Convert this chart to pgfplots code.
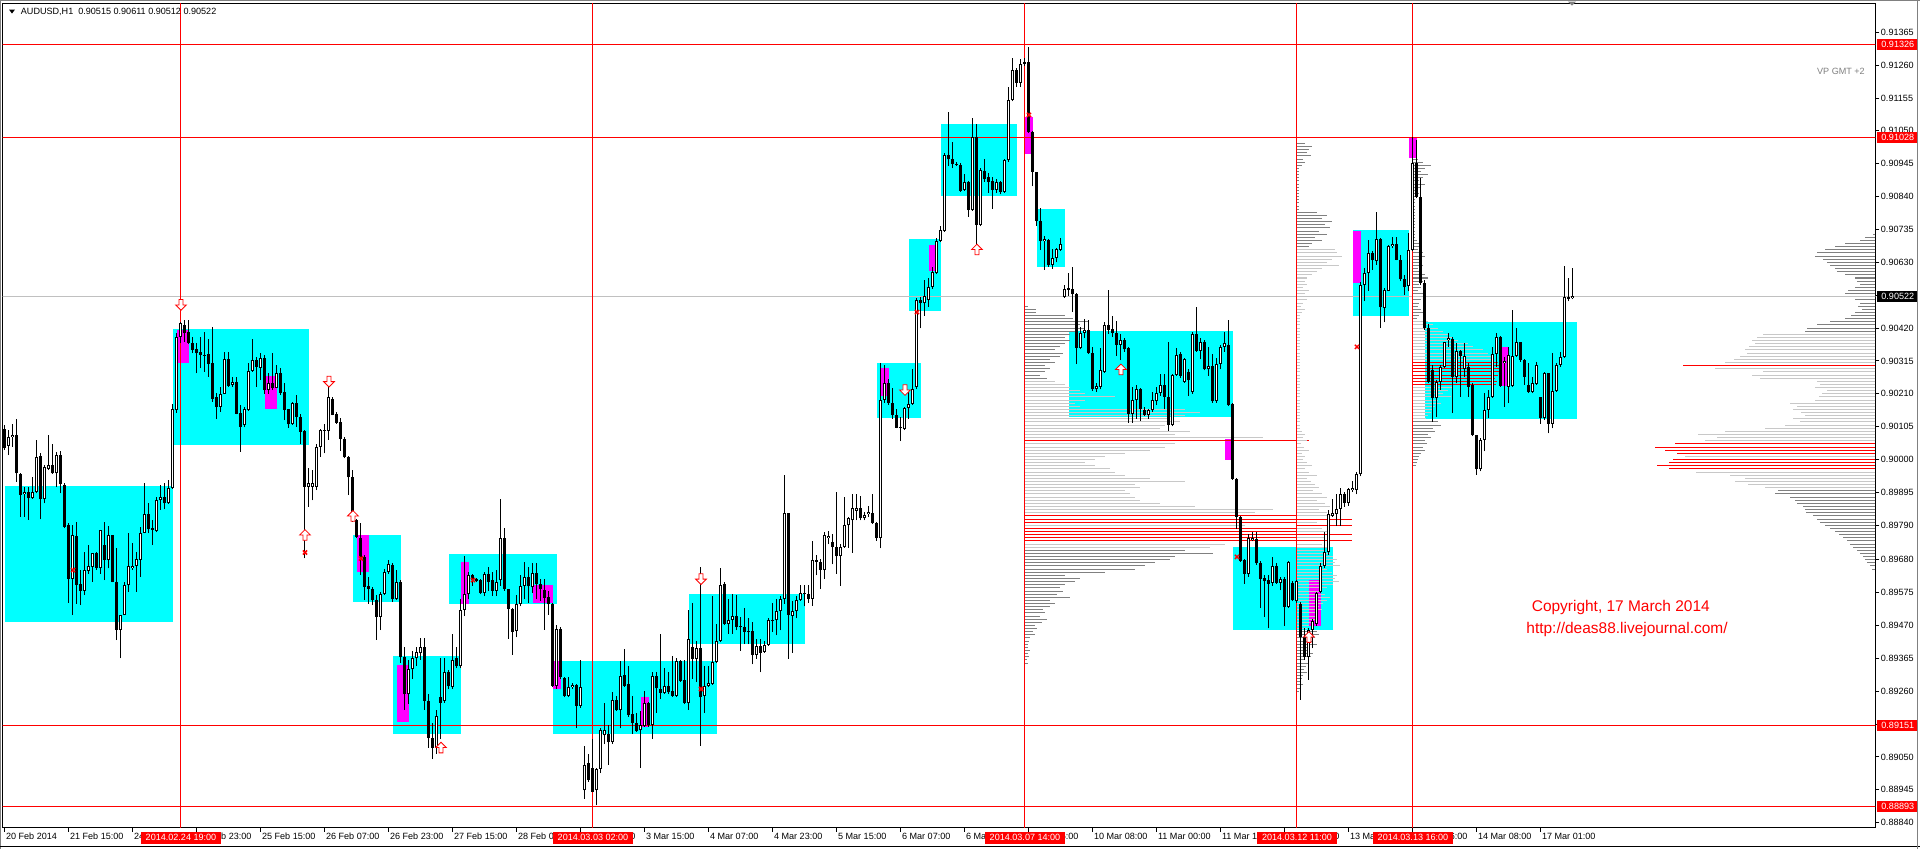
\documentclass[border=0pt]{standalone}
\usepackage{fontspec}
\setmainfont{Liberation Sans}
\usepackage{pgfplots}
\usepackage{pgfplotstable}
\pgfplotsset{compat=1.18}
\definecolor{mtcyan}{RGB}{0,255,255}
\definecolor{mtmag}{RGB}{255,0,255}
\definecolor{mtred}{RGB}{255,0,0}
\definecolor{vpdark}{RGB}{128,128,128}
\definecolor{vplight}{RGB}{200,200,200}
\definecolor{bidgray}{RGB}{192,192,192}
\newcommand\mtf{\fontsize{6.8}{8.2}\selectfont}

\pgfdeclareplotmark{uparr}{%
  \pgfpathmoveto{\pgfqpoint{-1.5pt}{-4pt}}%
  \pgfpathlineto{\pgfqpoint{1.5pt}{-4pt}}%
  \pgfpathlineto{\pgfqpoint{1.5pt}{0pt}}%
  \pgfpathlineto{\pgfqpoint{4pt}{0pt}}%
  \pgfpathlineto{\pgfqpoint{0pt}{4pt}}%
  \pgfpathlineto{\pgfqpoint{-4pt}{0pt}}%
  \pgfpathlineto{\pgfqpoint{-1.5pt}{0pt}}%
  \pgfpathclose\pgfusepathqfillstroke}
\pgfdeclareplotmark{dnarr}{%
  \pgfpathmoveto{\pgfqpoint{-1.5pt}{4pt}}%
  \pgfpathlineto{\pgfqpoint{1.5pt}{4pt}}%
  \pgfpathlineto{\pgfqpoint{1.5pt}{0pt}}%
  \pgfpathlineto{\pgfqpoint{4pt}{0pt}}%
  \pgfpathlineto{\pgfqpoint{0pt}{-4pt}}%
  \pgfpathlineto{\pgfqpoint{-4pt}{0pt}}%
  \pgfpathlineto{\pgfqpoint{-1.5pt}{0pt}}%
  \pgfpathclose\pgfusepathqfillstroke}

\pgfplotstableread{
x o h l c
0 0.90099 0.90110 0.90030 0.90036
1 0.90044 0.90094 0.90014 0.90071
2 0.90073 0.90115 0.90041 0.90078
3 0.90078 0.90128 0.89929 0.89956
4 0.89954 0.89956 0.89817 0.89886
5 0.89889 0.89913 0.89817 0.89895
6 0.89895 0.89913 0.89807 0.89876
7 0.89876 0.89943 0.89875 0.89895
8 0.89895 0.90064 0.89892 0.90007
9 0.90011 0.90020 0.89809 0.89873
10 0.89873 0.89982 0.89860 0.89975
11 0.89971 0.90078 0.89966 0.89984
12 0.89984 0.90051 0.89955 0.89956
13 0.89956 0.90025 0.89913 0.90016
14 0.90016 0.90027 0.89892 0.89922
15 0.89918 0.89924 0.89780 0.89785
16 0.89791 0.89798 0.89542 0.89620
17 0.89620 0.89791 0.89503 0.89759
18 0.89755 0.89801 0.89540 0.89599
19 0.89602 0.89647 0.89535 0.89581
20 0.89581 0.89705 0.89567 0.89647
21 0.89644 0.89727 0.89636 0.89660
22 0.89657 0.89700 0.89610 0.89700
23 0.89702 0.89705 0.89647 0.89654
24 0.89652 0.89775 0.89636 0.89775
25 0.89727 0.89801 0.89615 0.89679
26 0.89679 0.89787 0.89652 0.89759
27 0.89759 0.89760 0.89608 0.89610
28 0.89610 0.89716 0.89423 0.89457
29 0.89457 0.89504 0.89365 0.89503
30 0.89503 0.89610 0.89502 0.89599
31 0.89599 0.89764 0.89578 0.89660
32 0.89655 0.89732 0.89647 0.89660
33 0.89660 0.89705 0.89578 0.89681
34 0.89679 0.89785 0.89626 0.89766
35 0.89766 0.89924 0.89764 0.89825
36 0.89825 0.89860 0.89764 0.89777
37 0.89780 0.89807 0.89727 0.89775
38 0.89771 0.89881 0.89767 0.89870
39 0.89870 0.89918 0.89839 0.89879
40 0.89879 0.89924 0.89841 0.89860
41 0.89860 0.89936 0.89859 0.89908
42 0.89908 0.90179 0.89907 0.90160
43 0.90158 0.90403 0.90149 0.90392
44 0.90392 0.90440 0.90371 0.90435
45 0.90429 0.90445 0.90376 0.90403
46 0.90408 0.90445 0.90369 0.90373
47 0.90373 0.90392 0.90339 0.90350
48 0.90352 0.90371 0.90275 0.90339
49 0.90343 0.90392 0.90291 0.90334
50 0.90332 0.90408 0.90280 0.90334
51 0.90336 0.90384 0.90264 0.90305
52 0.90307 0.90422 0.90185 0.90194
53 0.90201 0.90213 0.90129 0.90169
54 0.90169 0.90232 0.90153 0.90211
55 0.90211 0.90344 0.90209 0.90321
56 0.90321 0.90344 0.90232 0.90235
57 0.90238 0.90264 0.90232 0.90247
58 0.90247 0.90264 0.90144 0.90147
59 0.90149 0.90174 0.90025 0.90105
60 0.90110 0.90169 0.90103 0.90160
61 0.90158 0.90307 0.90156 0.90284
62 0.90284 0.90385 0.90280 0.90318
63 0.90318 0.90328 0.90232 0.90296
64 0.90294 0.90339 0.90254 0.90323
65 0.90323 0.90334 0.90211 0.90222
66 0.90222 0.90275 0.90211 0.90245
67 0.90245 0.90342 0.90222 0.90230
68 0.90230 0.90302 0.90227 0.90277
69 0.90275 0.90291 0.90206 0.90214
70 0.90217 0.90243 0.90126 0.90158
71 0.90160 0.90163 0.90102 0.90112
72 0.90112 0.90185 0.90110 0.90181
73 0.90181 0.90206 0.90105 0.90137
74 0.90137 0.90147 0.90049 0.90089
75 0.90092 0.90096 0.89684 0.89913
76 0.89913 0.89972 0.89849 0.89926
77 0.89913 0.89966 0.89870 0.89926
78 0.89913 0.90051 0.89902 0.90041
79 0.90041 0.90099 0.90009 0.90094
80 0.90092 0.90115 0.90020 0.90096
81 0.90092 0.90232 0.90064 0.90201
82 0.90195 0.90201 0.90141 0.90142
83 0.90145 0.90153 0.90115 0.90117
84 0.90119 0.90133 0.90028 0.90066
85 0.90065 0.90073 0.90004 0.90007
86 0.90009 0.90011 0.89886 0.89943
87 0.89943 0.89966 0.89801 0.89807
88 0.89807 0.89811 0.89750 0.89753
89 0.89750 0.89798 0.89631 0.89684
90 0.89689 0.89695 0.89551 0.89594
91 0.89596 0.89626 0.89540 0.89588
92 0.89585 0.89594 0.89535 0.89551
93 0.89551 0.89567 0.89425 0.89498
94 0.89498 0.89578 0.89455 0.89572
95 0.89572 0.89649 0.89567 0.89642
96 0.89642 0.89679 0.89636 0.89666
97 0.89663 0.89668 0.89546 0.89553
98 0.89556 0.89647 0.89551 0.89610
99 0.89610 0.89615 0.89350 0.89370
100 0.89370 0.89400 0.89200 0.89250
101 0.89250 0.89360 0.89220 0.89330
102 0.89330 0.89390 0.89300 0.89365
103 0.89365 0.89400 0.89340 0.89386
104 0.89381 0.89430 0.89360 0.89402
105 0.89400 0.89429 0.89200 0.89230
106 0.89230 0.89250 0.89080 0.89110
107 0.89110 0.89160 0.89043 0.89080
108 0.89080 0.89200 0.89060 0.89180
109 0.89240 0.89366 0.89108 0.89223
110 0.89229 0.89366 0.89223 0.89322
111 0.89322 0.89328 0.89267 0.89276
112 0.89273 0.89443 0.89267 0.89361
113 0.89366 0.89401 0.89333 0.89339
114 0.89339 0.89553 0.89333 0.89520
115 0.89520 0.89691 0.89500 0.89570
116 0.89570 0.89641 0.89553 0.89630
117 0.89630 0.89636 0.89597 0.89614
118 0.89617 0.89621 0.89608 0.89612
119 0.89614 0.89617 0.89570 0.89575
120 0.89573 0.89641 0.89564 0.89633
121 0.89636 0.89658 0.89581 0.89610
122 0.89614 0.89641 0.89564 0.89581
123 0.89581 0.89647 0.89564 0.89610
124 0.89614 0.89874 0.89597 0.89751
125 0.89751 0.89782 0.89581 0.89586
126 0.89586 0.89587 0.89427 0.89522
127 0.89522 0.89525 0.89377 0.89449
128 0.89452 0.89566 0.89432 0.89537
129 0.89537 0.89630 0.89531 0.89597
130 0.89597 0.89672 0.89553 0.89625
131 0.89625 0.89658 0.89542 0.89595
132 0.89592 0.89669 0.89575 0.89638
133 0.89638 0.89669 0.89553 0.89603
134 0.89603 0.89619 0.89548 0.89586
135 0.89583 0.89619 0.89456 0.89559
136 0.89562 0.89581 0.89504 0.89537
137 0.89537 0.89542 0.89273 0.89278
138 0.89278 0.89471 0.89267 0.89460
139 0.89460 0.89465 0.89300 0.89306
140 0.89302 0.89306 0.89240 0.89245
141 0.89245 0.89306 0.89240 0.89273
142 0.89273 0.89286 0.89267 0.89280
143 0.89280 0.89284 0.89141 0.89212
144 0.89212 0.89361 0.89207 0.89273
145 0.88943 0.89086 0.88917 0.89025
146 0.89031 0.89058 0.88970 0.88976
147 0.89014 0.89108 0.88937 0.88939
148 0.88943 0.89014 0.88895 0.89012
149 0.89012 0.89141 0.88998 0.89135
150 0.89119 0.89223 0.89091 0.89137
151 0.89122 0.89152 0.89025 0.89097
152 0.89097 0.89256 0.89091 0.89232
153 0.89232 0.89245 0.89196 0.89199
154 0.89199 0.89355 0.89141 0.89309
155 0.89311 0.89394 0.89273 0.89278
156 0.89284 0.89339 0.89179 0.89185
157 0.89187 0.89245 0.89124 0.89157
158 0.89159 0.89190 0.89130 0.89133
159 0.89135 0.89196 0.89014 0.89152
160 0.89148 0.89262 0.89146 0.89223
161 0.89223 0.89225 0.89146 0.89152
162 0.89152 0.89320 0.89108 0.89309
163 0.89309 0.89322 0.89190 0.89269
164 0.89267 0.89443 0.89234 0.89254
165 0.89254 0.89333 0.89251 0.89276
166 0.89276 0.89320 0.89251 0.89256
167 0.89262 0.89372 0.89243 0.89245
168 0.89245 0.89366 0.89243 0.89357
169 0.89355 0.89361 0.89289 0.89291
170 0.89295 0.89361 0.89218 0.89223
171 0.89221 0.89520 0.89201 0.89427
172 0.89401 0.89542 0.89300 0.89364
173 0.89364 0.89421 0.89289 0.89399
174 0.89399 0.89658 0.89086 0.89240
175 0.89245 0.89339 0.89190 0.89278
176 0.89278 0.89339 0.89273 0.89287
177 0.89284 0.89564 0.89280 0.89353
178 0.89353 0.89476 0.89350 0.89421
179 0.89421 0.89652 0.89416 0.89599
180 0.89603 0.89608 0.89471 0.89474
181 0.89474 0.89555 0.89443 0.89487
182 0.89487 0.89570 0.89443 0.89500
183 0.89500 0.89566 0.89454 0.89465
184 0.89467 0.89498 0.89390 0.89465
185 0.89465 0.89526 0.89410 0.89449
186 0.89452 0.89493 0.89410 0.89449
187 0.89452 0.89482 0.89346 0.89375
188 0.89375 0.89427 0.89364 0.89405
189 0.89405 0.89427 0.89320 0.89383
190 0.89386 0.89421 0.89383 0.89407
191 0.89407 0.89493 0.89405 0.89487
192 0.89485 0.89542 0.89449 0.89487
193 0.89487 0.89553 0.89438 0.89515
194 0.89515 0.89564 0.89454 0.89553
195 0.89553 0.89951 0.89540 0.89828
196 0.89828 0.89829 0.89363 0.89504
197 0.89500 0.89548 0.89383 0.89517
198 0.89515 0.89564 0.89493 0.89551
199 0.89551 0.89599 0.89548 0.89573
200 0.89570 0.89599 0.89531 0.89573
201 0.89570 0.89599 0.89542 0.89555
202 0.89555 0.89740 0.89533 0.89680
203 0.89680 0.89696 0.89630 0.89672
204 0.89674 0.89683 0.89586 0.89647
205 0.89647 0.89768 0.89619 0.89760
206 0.89751 0.89771 0.89729 0.89757
207 0.89738 0.89762 0.89665 0.89720
208 0.89720 0.89896 0.89636 0.89691
209 0.89691 0.89729 0.89597 0.89720
210 0.89720 0.89881 0.89718 0.89790
211 0.89790 0.89817 0.89718 0.89812
212 0.89806 0.89889 0.89702 0.89845
213 0.89837 0.89889 0.89806 0.89845
214 0.89845 0.89883 0.89806 0.89812
215 0.89812 0.89834 0.89806 0.89823
216 0.89826 0.89852 0.89817 0.89834
217 0.89828 0.89889 0.89795 0.89797
218 0.89797 0.89801 0.89740 0.89749
219 0.89749 0.90307 0.89716 0.90191
220 0.90191 0.90301 0.90180 0.90246
221 0.90246 0.90257 0.90175 0.90180
222 0.90182 0.90230 0.90131 0.90142
223 0.90142 0.90160 0.90100 0.90101
224 0.90101 0.90136 0.90059 0.90103
225 0.90098 0.90169 0.90094 0.90164
226 0.90164 0.90215 0.90131 0.90178
227 0.90178 0.90290 0.90175 0.90226
228 0.90231 0.90516 0.90224 0.90509
229 0.90509 0.90519 0.90419 0.90499
230 0.90499 0.90573 0.90459 0.90524
231 0.90509 0.90581 0.90488 0.90552
232 0.90552 0.90616 0.90545 0.90599
233 0.90595 0.90709 0.90592 0.90699
234 0.90699 0.90745 0.90695 0.90733
235 0.90730 0.90980 0.90727 0.90973
236 0.90973 0.91111 0.90937 0.90959
237 0.90959 0.91016 0.90930 0.90944
238 0.90944 0.90950 0.90939 0.90941
239 0.90941 0.90947 0.90856 0.90859
240 0.90862 0.90913 0.90859 0.90887
241 0.90887 0.90890 0.90776 0.90797
242 0.90797 0.91090 0.90795 0.91030
243 0.91030 0.91073 0.90673 0.90749
244 0.90749 0.90930 0.90745 0.90926
245 0.90923 0.90959 0.90887 0.90895
246 0.90902 0.90916 0.90852 0.90887
247 0.90890 0.90902 0.90802 0.90862
248 0.90862 0.90895 0.90852 0.90887
249 0.90887 0.90890 0.90847 0.90856
250 0.90856 0.90959 0.90852 0.90956
251 0.90956 0.91190 0.90951 0.91148
252 0.91148 0.91284 0.91144 0.91244
253 0.91244 0.91251 0.91190 0.91204
254 0.91204 0.91279 0.91190 0.91265
255 0.91265 0.91284 0.91258 0.91269
256 0.91269 0.91318 0.91044 0.91047
257 0.91047 0.91051 0.90873 0.90919
258 0.90919 0.90920 0.90747 0.90762
259 0.90762 0.90805 0.90669 0.90698
260 0.90698 0.90713 0.90606 0.90705
261 0.90702 0.90705 0.90616 0.90623
262 0.90623 0.90673 0.90609 0.90645
263 0.90645 0.90676 0.90630 0.90673
264 0.90670 0.90709 0.90666 0.90688
265 0.90519 0.90559 0.90516 0.90545
266 0.90548 0.90595 0.90524 0.90542
267 0.90545 0.90616 0.90471 0.90528
268 0.90528 0.90531 0.90305 0.90357
269 0.90357 0.90424 0.90352 0.90405
270 0.90405 0.90448 0.90388 0.90414
271 0.90414 0.90445 0.90338 0.90342
272 0.90342 0.90360 0.90220 0.90224
273 0.90224 0.90245 0.90217 0.90234
274 0.90231 0.90357 0.90224 0.90285
275 0.90281 0.90438 0.90277 0.90431
276 0.90431 0.90542 0.90402 0.90414
277 0.90417 0.90459 0.90391 0.90405
278 0.90405 0.90442 0.90331 0.90367
279 0.90367 0.90402 0.90317 0.90381
280 0.90381 0.90388 0.90345 0.90352
281 0.90357 0.90360 0.90117 0.90146
282 0.90146 0.90231 0.90117 0.90189
283 0.90189 0.90238 0.90131 0.90224
284 0.90224 0.90228 0.90124 0.90163
285 0.90157 0.90167 0.90139 0.90143
286 0.90143 0.90160 0.90131 0.90157
287 0.90157 0.90217 0.90153 0.90189
288 0.90186 0.90231 0.90174 0.90214
289 0.90214 0.90274 0.90203 0.90238
290 0.90238 0.90274 0.90160 0.90200
291 0.90200 0.90374 0.90092 0.90110
292 0.90110 0.90274 0.90106 0.90271
293 0.90271 0.90357 0.90267 0.90334
294 0.90338 0.90345 0.90260 0.90267
295 0.90248 0.90324 0.90245 0.90320
296 0.90281 0.90288 0.90203 0.90253
297 0.90217 0.90409 0.90210 0.90402
298 0.90402 0.90488 0.90345 0.90348
299 0.90348 0.90388 0.90320 0.90377
300 0.90377 0.90381 0.90285 0.90288
301 0.90288 0.90360 0.90267 0.90300
302 0.90300 0.90338 0.90181 0.90186
303 0.90186 0.90324 0.90181 0.90305
304 0.90305 0.90367 0.90288 0.90360
305 0.90360 0.90409 0.90345 0.90371
306 0.90367 0.90445 0.90171 0.90174
307 0.90177 0.90181 0.89935 0.89939
308 0.89939 0.89940 0.89778 0.89818
309 0.89818 0.89820 0.89672 0.89675
310 0.89678 0.89682 0.89604 0.89635
311 0.89635 0.89761 0.89625 0.89749
312 0.89743 0.89768 0.89739 0.89749
313 0.89746 0.89768 0.89664 0.89668
314 0.89668 0.89675 0.89525 0.89618
315 0.89621 0.89632 0.89497 0.89611
316 0.89615 0.89632 0.89461 0.89604
317 0.89607 0.89689 0.89597 0.89661
318 0.89661 0.89668 0.89604 0.89607
319 0.89607 0.89625 0.89582 0.89618
320 0.89618 0.89625 0.89468 0.89530
321 0.89530 0.89675 0.89525 0.89672
322 0.89607 0.89611 0.89547 0.89550
323 0.89547 0.89615 0.89542 0.89611
324 0.89539 0.89544 0.89233 0.89433
325 0.89433 0.89461 0.89361 0.89369
326 0.89369 0.89461 0.89297 0.89454
327 0.89454 0.89490 0.89397 0.89483
328 0.89475 0.89578 0.89468 0.89575
329 0.89578 0.89668 0.89575 0.89661
330 0.89661 0.89768 0.89654 0.89704
331 0.89704 0.89839 0.89696 0.89825
332 0.89821 0.89875 0.89818 0.89829
333 0.89825 0.89889 0.89789 0.89843
334 0.89843 0.89910 0.89789 0.89889
335 0.89889 0.89896 0.89849 0.89861
336 0.89861 0.89910 0.89853 0.89906
337 0.89903 0.89932 0.89896 0.89910
338 0.89903 0.89961 0.89889 0.89953
339 0.89953 0.90566 0.89946 0.90559
340 0.90558 0.90611 0.90505 0.90597
341 0.90597 0.90702 0.90540 0.90659
342 0.90659 0.90665 0.90606 0.90636
343 0.90633 0.90792 0.90622 0.90704
344 0.90704 0.90707 0.90420 0.90487
345 0.90484 0.90548 0.90438 0.90542
346 0.90540 0.90686 0.90537 0.90681
347 0.90681 0.90712 0.90675 0.90689
348 0.90689 0.90712 0.90636 0.90638
349 0.90638 0.90654 0.90569 0.90576
350 0.90576 0.90590 0.90526 0.90551
351 0.90553 0.90723 0.90537 0.90670
352 0.90668 0.91032 0.90665 0.90947
353 0.90947 0.91021 0.90835 0.90840
354 0.90840 0.90899 0.90558 0.90563
355 0.90563 0.90574 0.90414 0.90420
356 0.90420 0.90434 0.90244 0.90249
357 0.90287 0.90303 0.90121 0.90196
358 0.90196 0.90255 0.90137 0.90249
359 0.90249 0.90303 0.90223 0.90297
360 0.90297 0.90377 0.90292 0.90374
361 0.90382 0.90404 0.90361 0.90388
362 0.90385 0.90393 0.90148 0.90265
363 0.90265 0.90372 0.90244 0.90348
364 0.90348 0.90350 0.90201 0.90331
365 0.90289 0.90372 0.90265 0.90331
366 0.90297 0.90308 0.90201 0.90233
367 0.90239 0.90244 0.90074 0.90079
368 0.90079 0.90080 0.89951 0.89969
369 0.89969 0.90068 0.89962 0.90063
370 0.90063 0.90212 0.90026 0.90159
371 0.90159 0.90223 0.90132 0.90201
372 0.90201 0.90361 0.90196 0.90338
373 0.90338 0.90404 0.90297 0.90391
374 0.90391 0.90395 0.90233 0.90235
375 0.90310 0.90329 0.90169 0.90316
376 0.90233 0.90361 0.90180 0.90334
377 0.90235 0.90478 0.90231 0.90331
378 0.90331 0.90420 0.90329 0.90374
379 0.90374 0.90377 0.90313 0.90318
380 0.90318 0.90320 0.90239 0.90265
381 0.90239 0.90308 0.90212 0.90217
382 0.90217 0.90265 0.90212 0.90244
383 0.90242 0.90313 0.90239 0.90303
384 0.90199 0.90201 0.90114 0.90132
385 0.90132 0.90281 0.90127 0.90276
386 0.90276 0.90278 0.90084 0.90114
387 0.90114 0.90340 0.90100 0.90220
388 0.90220 0.90308 0.90217 0.90303
389 0.90303 0.90345 0.90297 0.90327
390 0.90327 0.90617 0.90324 0.90519
391 0.90519 0.90579 0.90505 0.90512
392 0.90515 0.90611 0.90512 0.90522
}\candles

\pgfplotstableread[row sep=\\]{
p len k\\
0.9049 3 0\\ 0.9048 11 0\\ 0.9047 11 0\\ 0.9046 40 0\\ 0.9045 48 0\\ 0.9044 63 0\\ 0.9043 55 0\\ 0.9042 60 0\\ 0.9041 50 0\\ 0.9040 45 0\\
0.9039 40 0\\ 0.9038 45 0\\ 0.9037 40 0\\ 0.9036 35 0\\ 0.9035 30 0\\ 0.9034 38 0\\ 0.9033 35 0\\ 0.9032 25 0\\ 0.9031 30 0\\ 0.9030 20 0\\
0.9029 25 0\\ 0.9028 20 0\\ 0.9027 15 0\\ 0.9026 22 0\\ 0.9025 30 1\\ 0.9024 40 1\\ 0.9023 45 1\\ 0.9022 55 1\\ 0.9021 60 1\\ 0.9020 90 1\\
0.9019 60 1\\ 0.9018 50 1\\ 0.9017 55 1\\ 0.9016 160 1\\ 0.9015 175 1\\ 0.9014 160 1\\ 0.9013 145 1\\ 0.9012 155 1\\ 0.9011 140 1\\ 0.9010 135 1\\
0.9009 165 1\\ 0.9008 150 1\\ 0.9007 238 1\\ 0.9006 284 2\\ 0.9005 150 1\\ 0.9004 140 1\\ 0.9003 125 1\\ 0.9002 100 1\\ 0.9001 80 1\\ 0.9000 70 1\\
0.8999 60 1\\ 0.8998 70 1\\ 0.8997 85 1\\ 0.8996 90 1\\ 0.8995 100 1\\ 0.8994 125 1\\ 0.8993 160 1\\ 0.8992 110 1\\ 0.8991 115 1\\ 0.8990 100 1\\
0.8989 105 1\\ 0.8988 110 1\\ 0.8987 115 1\\ 0.8986 135 1\\ 0.8985 170 1\\ 0.8984 248 1\\ 0.8983 230 1\\ 0.8982 272 2\\ 0.8981 272 2\\ 0.8980 272 2\\
0.8979 220 1\\ 0.8978 272 2\\ 0.8977 272 2\\ 0.8976 272 2\\ 0.8975 272 2\\ 0.8974 272 2\\ 0.8973 200 1\\ 0.8972 185 1\\ 0.8971 160 0\\ 0.8970 188 0\\
0.8969 150 0\\ 0.8968 145 0\\ 0.8967 130 0\\ 0.8966 120 0\\ 0.8965 110 0\\ 0.8964 80 0\\ 0.8963 40 0\\ 0.8962 55 0\\ 0.8961 50 0\\ 0.8960 40 0\\
0.8959 35 0\\ 0.8958 38 0\\ 0.8957 32 0\\ 0.8956 45 0\\ 0.8955 25 0\\ 0.8954 30 0\\ 0.8953 25 0\\ 0.8952 18 0\\ 0.8951 20 0\\ 0.8950 15 0\\
0.8949 22 0\\ 0.8948 17 0\\ 0.8947 10 0\\ 0.8946 12 0\\ 0.8945 8 0\\ 0.8944 10 0\\ 0.8943 5 0\\ 0.8942 4 0\\ 0.8941 3 0\\ 0.8940 3 0\\
0.8939 5 0\\ 0.8938 3 0\\ 0.8937 4 0\\ 0.8936 2 0\\ 0.8935 3 0\\
}\profA

\pgfplotstableread[row sep=\\]{
p len k\\
0.9101 8 0\\ 0.9100 15 0\\ 0.9099 12 0\\ 0.9098 10 0\\ 0.9097 14 0\\ 0.9096 6 0\\ 0.9095 8 0\\ 0.9094 5 0\\ 0.9093 2 0\\ 0.9092 2 0\\
0.9091 2 0\\ 0.9090 2 0\\ 0.9089 2 0\\ 0.9088 2 0\\ 0.9087 2 0\\ 0.9086 2 0\\ 0.9085 2 0\\ 0.9084 2 0\\ 0.9083 2 0\\ 0.9082 2 0\\
0.9081 2 0\\ 0.9080 2 0\\ 0.9079 20 0\\ 0.9078 30 0\\ 0.9077 25 0\\ 0.9076 35 0\\ 0.9075 28 0\\ 0.9074 33 0\\ 0.9073 22 0\\ 0.9072 30 0\\
0.9071 18 0\\ 0.9070 25 0\\ 0.9069 15 0\\ 0.9068 12 0\\ 0.9067 38 1\\ 0.9066 40 1\\ 0.9065 45 1\\ 0.9064 35 1\\ 0.9063 30 1\\ 0.9062 42 1\\
0.9061 25 1\\ 0.9060 20 1\\ 0.9059 15 1\\ 0.9058 10 1\\ 0.9057 8 1\\ 0.9056 10 1\\ 0.9055 6 1\\ 0.9054 12 1\\ 0.9053 8 1\\ 0.9052 5 1\\
0.9051 10 1\\ 0.9050 6 1\\ 0.9049 4 1\\ 0.9048 8 1\\ 0.9047 5 1\\ 0.9046 3 1\\ 0.9045 3 1\\ 0.9044 3 1\\ 0.9043 3 1\\ 0.9042 3 1\\
0.9041 3 1\\ 0.9040 3 1\\ 0.9039 3 1\\ 0.9038 3 1\\ 0.9037 3 1\\ 0.9036 3 1\\ 0.9035 3 1\\ 0.9034 3 1\\ 0.9033 3 1\\ 0.9032 3 1\\
0.9031 3 1\\ 0.9030 3 1\\ 0.9029 3 1\\ 0.9028 3 1\\ 0.9027 3 1\\ 0.9026 3 1\\ 0.9025 3 1\\ 0.9024 3 1\\ 0.9023 3 1\\ 0.9022 3 1\\
0.9021 3 1\\ 0.9020 3 1\\ 0.9019 3 1\\ 0.9018 3 1\\ 0.9017 3 1\\ 0.9016 3 1\\ 0.9015 3 1\\ 0.9014 3 1\\ 0.9013 3 1\\ 0.9012 3 1\\
0.9011 3 1\\ 0.9010 3 1\\ 0.9009 5 1\\ 0.9008 8 1\\ 0.9007 6 1\\ 0.9006 10 1\\ 0.9005 4 1\\ 0.9004 7 1\\ 0.9003 12 1\\ 0.9002 5 1\\
0.9001 8 1\\ 0.9000 6 1\\ 0.8999 10 1\\ 0.8998 15 1\\ 0.8997 8 1\\ 0.8996 12 1\\ 0.8995 20 1\\ 0.8994 10 1\\ 0.8993 14 1\\ 0.8992 18 1\\
0.8991 22 1\\ 0.8990 16 1\\ 0.8989 25 1\\ 0.8988 30 1\\ 0.8987 20 1\\ 0.8986 28 1\\ 0.8985 33 1\\ 0.8984 22 1\\ 0.8983 30 1\\ 0.8982 35 1\\
0.8981 55 2\\ 0.8980 20 1\\ 0.8979 55 2\\ 0.8978 25 1\\ 0.8977 30 1\\ 0.8976 55 2\\ 0.8975 28 1\\ 0.8974 55 2\\ 0.8973 25 1\\ 0.8972 30 1\\
0.8971 28 1\\ 0.8970 33 1\\ 0.8969 36 1\\ 0.8968 40 1\\ 0.8967 38 1\\ 0.8966 43 1\\ 0.8965 30 1\\ 0.8964 35 1\\ 0.8963 40 1\\ 0.8962 38 1\\
0.8961 42 1\\ 0.8960 36 1\\ 0.8959 30 1\\ 0.8958 25 1\\ 0.8957 28 1\\ 0.8956 33 1\\ 0.8955 30 1\\ 0.8954 26 1\\ 0.8953 22 1\\ 0.8952 25 1\\
0.8951 20 1\\ 0.8950 18 1\\ 0.8949 20 1\\ 0.8948 15 1\\ 0.8947 12 1\\ 0.8946 10 1\\ 0.8945 20 0\\ 0.8944 22 0\\ 0.8943 18 0\\ 0.8942 15 0\\
0.8941 20 0\\ 0.8940 12 0\\ 0.8939 10 0\\ 0.8938 16 0\\ 0.8937 14 0\\ 0.8936 8 0\\ 0.8935 12 0\\ 0.8934 9 0\\ 0.8933 7 0\\ 0.8932 10 0\\
0.8931 6 0\\ 0.8930 5 0\\ 0.8929 4 0\\ 0.8928 6 0\\ 0.8927 3 0\\ 0.8926 2 0\\
}\profB

\pgfplotstableread[row sep=\\]{
p len k\\
0.9096 5 0\\ 0.9095 10 0\\ 0.9094 18 0\\ 0.9093 12 0\\ 0.9092 8 0\\ 0.9091 15 0\\ 0.9090 10 0\\ 0.9089 6 0\\ 0.9088 12 0\\ 0.9087 8 0\\
0.9086 4 0\\ 0.9085 6 0\\ 0.9084 3 0\\ 0.9083 2 0\\ 0.9082 2 0\\ 0.9081 2 0\\ 0.9080 2 0\\ 0.9079 2 0\\ 0.9078 2 0\\ 0.9077 2 0\\
0.9076 2 0\\ 0.9075 2 0\\ 0.9074 2 0\\ 0.9073 2 0\\ 0.9072 2 0\\ 0.9071 2 0\\ 0.9070 4 0\\ 0.9069 6 0\\ 0.9068 8 0\\ 0.9067 5 0\\
0.9066 10 0\\ 0.9065 12 0\\ 0.9064 8 0\\ 0.9063 6 0\\ 0.9062 10 0\\ 0.9061 5 0\\ 0.9060 8 0\\ 0.9059 12 0\\ 0.9058 15 0\\ 0.9057 10 0\\
0.9056 6 0\\ 0.9055 8 0\\ 0.9054 5 0\\ 0.9053 10 0\\ 0.9052 12 0\\ 0.9051 8 0\\ 0.9050 6 0\\ 0.9049 5 0\\ 0.9048 8 0\\ 0.9047 10 0\\
0.9046 6 0\\ 0.9045 4 0\\ 0.9044 15 1\\ 0.9043 20 1\\ 0.9042 25 1\\ 0.9041 30 1\\ 0.9040 35 1\\ 0.9039 40 1\\ 0.9038 45 1\\ 0.9037 55 1\\
0.9036 60 1\\ 0.9035 70 1\\ 0.9034 75 1\\ 0.9033 78 1\\ 0.9032 80 1\\ 0.9031 85 2\\ 0.9030 88 2\\ 0.9029 86 2\\ 0.9028 89 2\\ 0.9027 85 2\\
0.9026 82 2\\ 0.9025 84 2\\ 0.9024 83 2\\ 0.9023 40 1\\ 0.9022 35 1\\ 0.9021 30 1\\ 0.9020 38 1\\ 0.9019 25 1\\ 0.9018 28 1\\ 0.9017 22 1\\
0.9016 20 1\\ 0.9015 18 1\\ 0.9014 15 1\\ 0.9013 13 1\\ 0.9012 25 0\\ 0.9011 28 0\\ 0.9010 20 0\\ 0.9009 22 0\\ 0.9008 15 0\\ 0.9007 18 0\\
0.9006 12 0\\ 0.9005 14 0\\ 0.9004 10 0\\ 0.9003 12 0\\ 0.9002 8 0\\ 0.9001 6 0\\ 0.9000 5 0\\ 0.8999 4 0\\ 0.8998 3 0\\
}\profC

\pgfplotstableread[row sep=\\]{
p len k\\
0.9072 2 0\\ 0.9071 10 0\\ 0.9070 15 0\\ 0.9069 30 0\\ 0.9068 40 0\\ 0.9067 50 0\\ 0.9066 58 0\\ 0.9065 60 0\\ 0.9064 52 0\\ 0.9063 48 0\\
0.9062 45 0\\ 0.9061 40 0\\ 0.9060 38 0\\ 0.9059 30 0\\ 0.9058 20 0\\ 0.9057 18 0\\ 0.9056 15 0\\ 0.9055 20 0\\ 0.9054 27 0\\ 0.9053 30 0\\
0.9052 18 0\\ 0.9051 20 0\\ 0.9050 15 0\\ 0.9049 17 0\\ 0.9048 13 0\\ 0.9047 20 0\\ 0.9046 24 0\\ 0.9045 30 0\\ 0.9044 45 0\\ 0.9043 58 0\\
0.9042 68 0\\ 0.9041 70 0\\ 0.9040 112 1\\ 0.9039 118 1\\ 0.9038 123 1\\ 0.9037 120 1\\ 0.9036 126 1\\ 0.9035 130 1\\ 0.9034 128 1\\ 0.9033 135 1\\
0.9032 141 1\\ 0.9031 150 1\\ 0.9030 192 2\\ 0.9029 160 1\\ 0.9028 112 1\\ 0.9027 123 1\\ 0.9026 115 1\\ 0.9025 58 1\\ 0.9024 55 1\\ 0.9023 60 1\\
0.9022 48 1\\ 0.9021 53 1\\ 0.9020 56 1\\ 0.9019 60 1\\ 0.9018 85 1\\ 0.9017 78 1\\ 0.9016 82 1\\ 0.9015 74 1\\ 0.9014 70 1\\ 0.9013 82 1\\
0.9012 75 1\\ 0.9011 90 1\\ 0.9010 110 1\\ 0.9009 150 1\\ 0.9008 177 1\\ 0.9007 158 1\\ 0.9006 170 1\\ 0.9005 200 2\\ 0.9004 220 2\\ 0.9003 210 2\\
0.9002 198 2\\ 0.9001 190 1\\ 0.9000 202 2\\ 0.8999 206 2\\ 0.8998 218 2\\ 0.8997 206 2\\ 0.8996 179 1\\ 0.8995 145 1\\ 0.8994 130 1\\ 0.8993 140 1\\
0.8992 127 1\\ 0.8991 110 1\\ 0.8990 97 0\\ 0.8989 100 0\\ 0.8988 85 0\\ 0.8987 80 0\\ 0.8986 78 0\\ 0.8985 72 0\\ 0.8984 70 0\\ 0.8983 69 0\\
0.8982 62 0\\ 0.8981 58 0\\ 0.8980 55 0\\ 0.8979 50 0\\ 0.8978 45 0\\ 0.8977 40 0\\ 0.8976 36 0\\ 0.8975 32 0\\ 0.8974 28 0\\ 0.8973 25 0\\
0.8972 22 0\\ 0.8971 18 0\\ 0.8970 15 0\\ 0.8969 12 0\\ 0.8968 10 0\\ 0.8967 8 0\\ 0.8966 5 0\\ 0.8965 3 0\\
}\profD

\pgfplotsset{
  vp/.style 2 args={draw=none, mark=none,
    error bars/x dir=#2, error bars/x explicit, error bars/error mark=none,
    error bars/error bar style={draw=#1, line width=0.75pt}},
  box/.style={fill=#1, draw=none},
  candle/.style={draw=none, mark=none, error bars/y dir=plus, error bars/y explicit, error bars/error mark=none},
}

\begin{document}
\begin{tikzpicture}
\fill[white] (0,0) rectangle (1440pt,636.75pt);
\useasboundingbox (0,0) rectangle (1440pt,636.75pt);
\begin{axis}[
  at={(2.025pt,15.75pt)}, anchor=south west, scale only axis,
  width=1404.5pt, height=618.5pt,
  xmin=-0.575, xmax=467.6, ymin=0.88823, ymax=0.914575,
  axis line style={line width=0.75pt, black},
  tick align=outside, major tick length=3pt,
  tick style={line width=0.75pt, black},
  xtick pos=left, ytick pos=right, xticklabel pos=left, yticklabel pos=right,
  xtick={0,16,...,384},
  xticklabels={20 Feb 2014,21 Feb 15:00,24 Feb 07:00,24 Feb 23:00,25 Feb 15:00,26 Feb 07:00,26 Feb 23:00,27 Feb 15:00,28 Feb 07:00,28 Feb 23:00,3 Mar 15:00,4 Mar 07:00,4 Mar 23:00,5 Mar 15:00,6 Mar 07:00,6 Mar 23:00,7 Mar 15:00,10 Mar 08:00,11 Mar 00:00,11 Mar 16:00,12 Mar 08:00,13 Mar 00:00,13 Mar 16:00,14 Mar 08:00,17 Mar 01:00},
  ytick={0.91365,0.91260,0.91155,0.91050,0.90945,0.90840,0.90735,0.90630,0.90525,0.90420,0.90315,0.90210,0.90105,0.90000,0.89895,0.89790,0.89680,0.89575,0.89470,0.89365,0.89260,0.89155,0.89050,0.88945,0.88840},
  yticklabels={0.91365,0.91260,0.91155,0.91050,0.90945,0.90840,0.90735,0.90630,0.90525,0.90420,0.90315,0.90210,0.90105,0.90000,0.89895,0.89790,0.89680,0.89575,0.89470,0.89365,0.89260,0.89155,0.89050,0.88945,0.88840},
  xticklabel style={font=\mtf, anchor=north west, inner sep=0pt, xshift=0.6pt, yshift=-0.5pt},
  yticklabel style={font=\mtf, anchor=west, inner sep=0pt, xshift=1pt},
]
% cyan boxes
\addplot[box=mtcyan] coordinates {(0,0.89915) (42,0.89915) (42,0.89482) (0,0.89482)};
\addplot[box=mtcyan] coordinates {(42,0.90417) (76,0.90417) (76,0.90046) (42,0.90046)};
\addplot[box=mtcyan] coordinates {(87,0.89759) (99,0.89759) (99,0.89546) (87,0.89546)};
\addplot[box=mtcyan] coordinates {(111,0.89698) (138,0.89698) (138,0.89537) (111,0.89537)};
\addplot[box=mtcyan] coordinates {(97,0.89372) (114,0.89372) (114,0.89124) (97,0.89124)};
\addplot[box=mtcyan] coordinates {(137,0.89355) (178,0.89355) (178,0.89124) (137,0.89124)};
\addplot[box=mtcyan] coordinates {(171,0.89572) (200,0.89572) (200,0.89410) (171,0.89410)};
\addplot[box=mtcyan] coordinates {(218,0.90309) (229,0.90309) (229,0.90134) (218,0.90134)};
\addplot[box=mtcyan] coordinates {(226,0.90705) (234,0.90705) (234,0.90476) (226,0.90476)};
\addplot[box=mtcyan] coordinates {(234,0.91071) (253,0.91071) (253,0.90843) (234,0.90843)};
\addplot[box=mtcyan] coordinates {(258,0.90802) (265,0.90802) (265,0.90616) (258,0.90616)};
\addplot[box=mtcyan] coordinates {(266,0.90411) (307,0.90411) (307,0.90137) (266,0.90137)};
\addplot[box=mtcyan] coordinates {(307,0.89721) (332,0.89721) (332,0.89457) (307,0.89457)};
\addplot[box=mtcyan] coordinates {(337,0.90734) (351,0.90734) (351,0.90460) (337,0.90460)};
\addplot[box=mtcyan] coordinates {(355,0.90438) (393,0.90438) (393,0.90130) (355,0.90130)};
% magenta boxes
\addplot[box=mtmag] coordinates {(43,0.90414) (46,0.90414) (46,0.90307) (43,0.90307)};
\addplot[box=mtmag] coordinates {(65,0.90267) (68,0.90267) (68,0.90161) (65,0.90161)};
\addplot[box=mtmag] coordinates {(88,0.89759) (91,0.89759) (91,0.89642) (88,0.89642)};
\addplot[box=mtmag] coordinates {(98,0.89344) (101,0.89344) (101,0.89162) (98,0.89162)};
\addplot[box=mtmag] coordinates {(114,0.89674) (116,0.89674) (116,0.89537) (114,0.89537)};
\addplot[box=mtmag] coordinates {(132,0.89599) (137,0.89599) (137,0.89542) (132,0.89542)};
\addplot[box=mtmag] coordinates {(137,0.89355) (139,0.89355) (139,0.89267) (137,0.89267)};
\addplot[box=mtmag] coordinates {(159,0.89243) (161,0.89243) (161,0.89146) (159,0.89146)};
\addplot[box=mtmag] coordinates {(219,0.90292) (221,0.90292) (221,0.90204) (219,0.90204)};
\addplot[box=mtmag] coordinates {(231,0.90685) (233,0.90685) (233,0.90602) (231,0.90602)};
\addplot[box=mtmag] coordinates {(255,0.91094) (257,0.91094) (257,0.90976) (255,0.90976)};
\addplot[box=mtmag] coordinates {(305,0.90067) (307,0.90067) (307,0.90000) (305,0.90000)};
\addplot[box=mtmag] coordinates {(326,0.89615) (329,0.89615) (329,0.89468) (326,0.89468)};
\addplot[box=mtmag] coordinates {(337,0.90731) (339,0.90731) (339,0.90563) (337,0.90563)};
\addplot[box=mtmag] coordinates {(351,0.91030) (353,0.91030) (353,0.90963) (351,0.90963)};
\addplot[box=mtmag] coordinates {(374,0.90361) (376,0.90361) (376,0.90235) (374,0.90235)};
% volume profiles
\addplot[vp={vpdark}{plus}, restrict expr to domain={\thisrow{k}}{0:0}] table[x expr=255, y=p, x error expr=\thisrow{len}/4] {\profA};
\addplot[vp={vplight}{plus}, restrict expr to domain={\thisrow{k}}{1:1}] table[x expr=255, y=p, x error expr=\thisrow{len}/4] {\profA};
\addplot[vp={mtred}{plus}, restrict expr to domain={\thisrow{k}}{2:2}] table[x expr=255, y=p, x error expr=\thisrow{len}/4] {\profA};
\addplot[vp={vpdark}{plus}, restrict expr to domain={\thisrow{k}}{0:0}] table[x expr=323, y=p, x error expr=\thisrow{len}/4] {\profB};
\addplot[vp={vplight}{plus}, restrict expr to domain={\thisrow{k}}{1:1}] table[x expr=323, y=p, x error expr=\thisrow{len}/4] {\profB};
\addplot[vp={mtred}{plus}, restrict expr to domain={\thisrow{k}}{2:2}] table[x expr=323, y=p, x error expr=\thisrow{len}/4] {\profB};
\addplot[vp={vpdark}{plus}, restrict expr to domain={\thisrow{k}}{0:0}] table[x expr=352, y=p, x error expr=\thisrow{len}/4] {\profC};
\addplot[vp={vplight}{plus}, restrict expr to domain={\thisrow{k}}{1:1}] table[x expr=352, y=p, x error expr=\thisrow{len}/4] {\profC};
\addplot[vp={mtred}{plus}, restrict expr to domain={\thisrow{k}}{2:2}] table[x expr=352, y=p, x error expr=\thisrow{len}/4] {\profC};
\addplot[vp={vpdark}{minus}, restrict expr to domain={\thisrow{k}}{0:0}] table[x expr=467.6, y=p, x error expr=\thisrow{len}/4] {\profD};
\addplot[vp={vplight}{minus}, restrict expr to domain={\thisrow{k}}{1:1}] table[x expr=467.6, y=p, x error expr=\thisrow{len}/4] {\profD};
\addplot[vp={mtred}{minus}, restrict expr to domain={\thisrow{k}}{2:2}] table[x expr=467.6, y=p, x error expr=\thisrow{len}/4] {\profD};
% bid line and levels
\addplot[bidgray, line width=0.75pt] coordinates {(-1,0.90522) (470,0.90522)};
\addplot[mtred, line width=0.75pt] coordinates {(-1,0.91326) (470,0.91326)};
\addplot[mtred, line width=0.75pt] coordinates {(-1,0.91028) (470,0.91028)};
\addplot[mtred, line width=0.75pt] coordinates {(-1,0.89151) (470,0.89151)};
\addplot[mtred, line width=0.75pt] coordinates {(-1,0.88893) (470,0.88893)};
\addplot[mtred, line width=0.75pt] coordinates {(44,0.88) (44,0.92)};
\addplot[mtred, line width=0.75pt] coordinates {(147,0.88) (147,0.92)};
\addplot[mtred, line width=0.75pt] coordinates {(255,0.88) (255,0.92)};
\addplot[mtred, line width=0.75pt] coordinates {(323,0.88) (323,0.92)};
\addplot[mtred, line width=0.75pt] coordinates {(352,0.88) (352,0.92)};
% candles: wicks, bodies, white interiors
\addplot[candle, error bars/error bar style={draw=black, line width=0.75pt}]
  table[x=x, y=l, y error expr=\thisrow{h}-\thisrow{l}] {\candles};
\addplot[candle, error bars/error bar style={draw=black, line width=2.25pt}]
  table[x=x, y expr={min(\thisrow{o},\thisrow{c})}, y error expr={abs(\thisrow{c}-\thisrow{o})}] {\candles};
\addplot[candle, restrict expr to domain={\thisrow{c}-\thisrow{o}}{0.00005:1}, error bars/error bar style={draw=white, line width=0.75pt, shorten <=0.75pt, shorten >=0.75pt}]
  table[x=x, y=o, y error expr=\thisrow{c}-\thisrow{o}] {\candles};
% signal arrows and crosses
\addplot[only marks, mark=dnarr, mark options={draw=mtred, fill=white, line width=0.6pt}] coordinates {(44,0.90494) (81,0.90249) (174,0.89618) (225,0.90222)};
\addplot[only marks, mark=uparr, mark options={draw=mtred, fill=white, line width=0.6pt}] coordinates {(75,0.89759) (87,0.89820) (109,0.89080) (243,0.90671) (279,0.90288) (326,0.89433)};
\addplot[only marks, mark=x, mark size=2.2pt, mark options={draw=mtred, line width=1.1pt}] coordinates {(17,0.89647) (75,0.89703) (89,0.89684) (117,0.89615) (174,0.89267) (228,0.90471) (256,0.91101) (308,0.89689) (338,0.90360)};
\end{axis}
% header
\fill[black] (6.75pt,629.6pt) -- (11.25pt,629.6pt) -- (9pt,626.6pt) -- cycle;
\node[anchor=west, inner sep=0pt, font=\mtf] at (15.5pt,628.1pt) {AUDUSD,H1\ \ 0.90515 0.90611 0.90512 0.90522};
\node[anchor=east, inner sep=0pt, font=\mtf, text=vpdark] at (1398.75pt,583.5pt) {VP GMT +2};
\node[inner sep=0pt, font=\fontsize{11.6}{13}\selectfont, text=mtred] at (1215.6pt,180.75pt) {Copyright, 17 March 2014};
\node[inner sep=0pt, font=\fontsize{11.6}{13}\selectfont, text=mtred] at (1220.25pt,164.6pt) {http://deas88.livejournal.com/};
% price tags
\node[fill=mtred, text=white, font=\mtf, inner sep=0pt, minimum width=30.75pt, minimum height=8.25pt, anchor=west] at (1407.75pt,603.41pt) {0.91326};
\node[fill=mtred, text=white, font=\mtf, inner sep=0pt, minimum width=30.75pt, minimum height=8.25pt, anchor=west] at (1407.75pt,533.45pt) {0.91028};
\node[fill=black, text=white, font=\mtf, inner sep=0pt, minimum width=30.75pt, minimum height=8.25pt, anchor=west] at (1407.75pt,414.68pt) {0.90522};
\node[fill=mtred, text=white, font=\mtf, inner sep=0pt, minimum width=30.75pt, minimum height=8.25pt, anchor=west] at (1407.75pt,92.78pt) {0.89151};
\node[fill=mtred, text=white, font=\mtf, inner sep=0pt, minimum width=30.75pt, minimum height=8.25pt, anchor=west] at (1407.75pt,32.18pt) {0.88893};
% time tags
\node[fill=mtred, text=white, font=\mtf, inner sep=0pt, minimum width=60pt, minimum height=9.2pt] at (135.75pt,8.4pt) {2014.02.24 19:00};
\node[fill=mtred, text=white, font=\mtf, inner sep=0pt, minimum width=60pt, minimum height=9.2pt] at (444.75pt,8.4pt) {2014.03.03 02:00};
\node[fill=mtred, text=white, font=\mtf, inner sep=0pt, minimum width=60pt, minimum height=9.2pt] at (768.75pt,8.4pt) {2014.03.07 14:00};
\node[fill=mtred, text=white, font=\mtf, inner sep=0pt, minimum width=60pt, minimum height=9.2pt] at (972.75pt,8.4pt) {2014.03.12 11:00};
\node[fill=mtred, text=white, font=\mtf, inner sep=0pt, minimum width=60pt, minimum height=9.2pt] at (1059.75pt,8.4pt) {2014.03.13 16:00};
% window frame
\draw[gray, line width=0.75pt] (0,636.4pt) -- (1440pt,636.4pt);
\draw[gray, line width=0.75pt] (0.4pt,0) -- (0.4pt,636.75pt);
\draw[black, line width=0.75pt] (0,1.7pt) -- (1440pt,1.7pt);
\draw[gray, line width=0.75pt] (1438.2pt,0) -- (1438.2pt,636.75pt);
\fill[gray] (1176pt,635.5pt) -- (1182pt,635.5pt) -- (1179pt,632.5pt) -- cycle;
\end{tikzpicture}
\end{document}
